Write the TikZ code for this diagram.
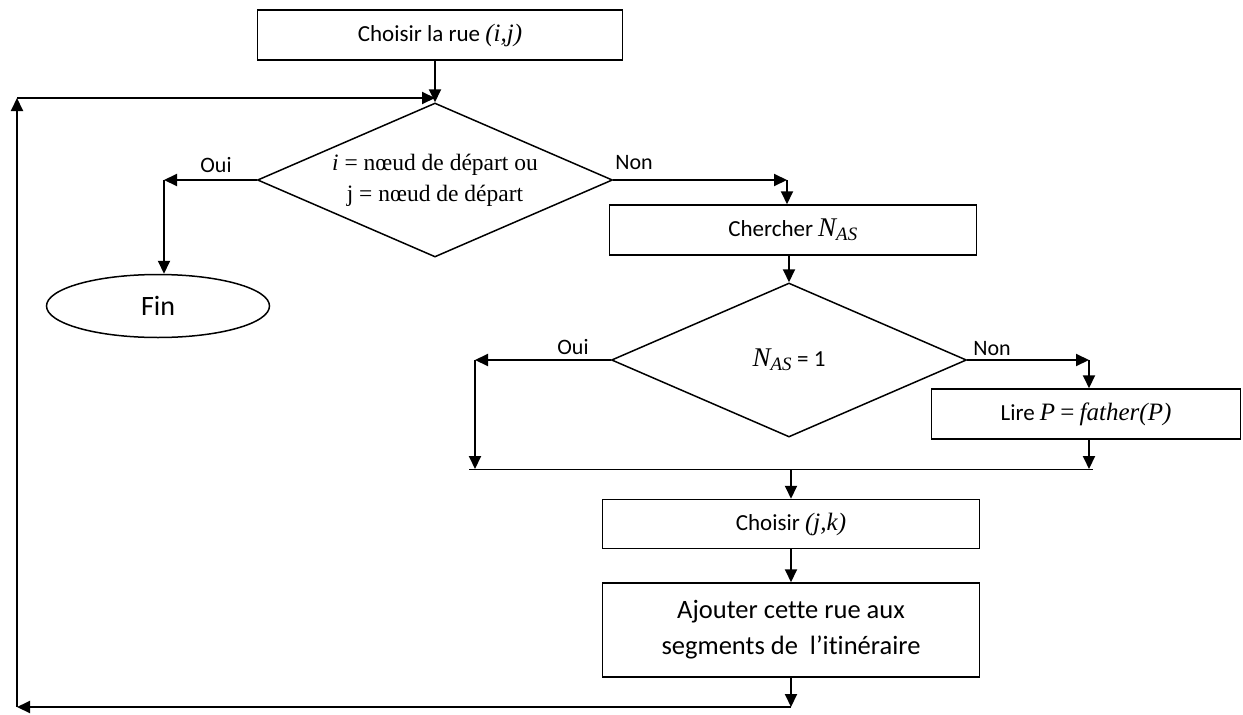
\documentclass[tikz,border=0pt]{standalone}
\usepackage{fontspec}
\setmainfont[Ligatures={TeX,NoCommon}]{Carlito}
\newfontfamily\gara{Liberation Serif}
\usetikzlibrary{shapes.geometric,arrows.meta}
\newcommand{\mi}[1]{{\gara\itshape\fontsize{25}{25}\selectfont #1}}
\tikzset{
  boite/.style={draw,line width=1.5pt,minimum height=50pt,inner sep=0pt,font=\fontsize{23}{27}\selectfont},
  losange/.style={draw,diamond,line width=1.5pt,inner sep=0pt,aspect=2.3,minimum width=355pt,minimum height=154pt,font=\fontsize{23}{27}\selectfont},
  fl/.style={line width=2pt,-{Triangle[length=13pt,width=12pt]}},
  lbl/.style={font=\fontsize{22}{26}\selectfont}
}
\begin{document}
\begin{tikzpicture}[x=1pt,y=-1pt]
  \useasboundingbox (0,0) rectangle (1243,715);
  % les blocs
  \node[boite,minimum width=365pt] (rue) at (440,35) {Choisir la rue \mi{(i,j)}};
  \node[losange,align=center,font=\gara\fontsize{23.5}{31}\selectfont] (test1) at (435,180) {\textit{i} = nœud de départ ou\\j = nœud de départ};
  \node[draw,ellipse,line width=1.5pt,minimum width=223pt,minimum height=63pt,font=\fontsize{28}{32}\selectfont] (fin) at (158,306) {Fin};
  \node[boite,minimum width=367pt] (cherch) at (793,230) {Chercher \mi{\fontsize{27}{27}\selectfont N\textsubscript{AS}}};
  \node[losange] (test2) at (789,360) {\mi{\fontsize{27}{27}\selectfont N\textsubscript{AS}} = 1};
  \node[boite,minimum width=309pt] (lire) at (1086,414) {Lire \mi{P} {\gara\fontsize{25}{25}\selectfont =} \mi{father(P)}};
  \node[boite,minimum width=377pt,minimum height=49pt] (jk) at (791,524) {Choisir \mi{(j,k)}};
  \node[boite,minimum width=377pt,minimum height=94pt,align=center,font=\fontsize{26.5}{36}\selectfont] (ajout) at (791,630) {Ajouter cette rue aux\\segments de\ \ l’itinéraire};
  % les coins
  \coordinate (haut) at (17,98);
  \coordinate (bas) at (17,707);
  \coordinate (oui1) at (164,180);
  \coordinate (non1) at (787,180);
  \coordinate (oui2) at (475,360);
  \coordinate (non2) at (1089,360);
  \coordinate (j1) at (475,469);
  \coordinate (j2) at (1089,469);
  % les fleches
  \draw[fl] (rue.south -| test1.north) -- (test1.north);
  \draw[fl] (bas) -- (haut);
  \draw[fl] (haut) -- (haut -| test1.north);
  \draw[fl] (test1.west) -- (oui1);
  \draw[fl] (oui1) -- (oui1 |- fin.north);
  \draw[fl] (test1.east) -- (non1);
  \draw[fl] (non1) -- (non1 |- cherch.north);
  \draw[fl] (cherch.south -| test2.north) -- (test2.north);
  \draw[fl] (test2.west) -- (oui2);
  \draw[fl] (oui2) -- (j1);
  \draw[fl] (test2.east) -- (non2);
  \draw[fl] (non2) -- (non2 |- lire.north);
  \draw[fl] (lire.south -| non2) -- (j2);
  \draw[line width=1pt] ([xshift=-6pt]j1) -- ([xshift=4pt]j2);
  \draw[fl] (jk.north |- j1) -- (jk.north);
  \draw[fl] (jk.south) -- (ajout.north);
  \draw[fl] (ajout.south) -- (ajout.south |- bas);
  \draw[fl] (ajout.south |- bas) -- (bas);
  % oui / non
  \node[lbl] (o1) at (216,165) {Oui};
  \node[lbl] (n1) at (634,163) {Non};
  \node[lbl] (o2) at (573,347) {Oui};
  \node[lbl] (n2) at (992,349) {Non};
\end{tikzpicture}
\end{document}
